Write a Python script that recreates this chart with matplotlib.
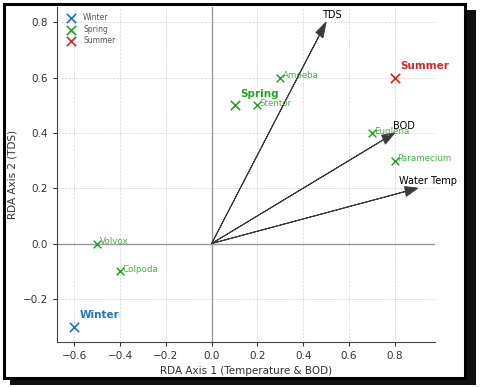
import matplotlib
matplotlib.use('Agg')
import matplotlib.pyplot as plt
from matplotlib.patches import Rectangle

# site scores
sites = ['Winter', 'Spring', 'Summer']
site_x = [-0.6, 0.1, 0.8]
site_y = [-0.3, 0.5, 0.6]
site_colors = ['#1f77b4', '#2ca02c', '#d62728']

# species scores
species = ['Amoeba', 'Stentor', 'Euglena', 'Paramecium', 'Volvox', 'Colpoda']
species_x = [0.3, 0.2, 0.7, 0.8, -0.5, -0.4]
species_y = [0.6, 0.5, 0.4, 0.3, 0.0, -0.1]

# environmental vectors
env_vars = ['TDS', 'BOD', 'Water Temp']
env_x = [0.5, 0.8, 0.9]
env_y = [0.8, 0.4, 0.2]

fig = plt.figure(figsize=(4.8, 3.87), dpi=100)

# framed screenshot look: shadow + white panel with black edge
fig.patches.append(Rectangle((0.02, 0.004), 0.972, 0.97, transform=fig.transFigure,
                             facecolor='#111111', edgecolor='none', zorder=-2))
fig.patches.append(Rectangle((0.008, 0.024), 0.961, 0.965, transform=fig.transFigure,
                             facecolor='white', edgecolor='black', linewidth=2.2, zorder=-1))

ax = fig.add_axes([0.119, 0.117, 0.787, 0.865])
ax.set_facecolor('none')

ax.axhline(0, color='#999999', linewidth=1.0, zorder=1.8)
ax.axvline(0, color='#999999', linewidth=1.0, zorder=1.8)

for name, x, y, c in zip(sites, site_x, site_y, site_colors):
    ax.scatter(x, y, marker='x', s=45, color=c, linewidths=1.2, label=name, zorder=3)
    ax.text(x + 0.025, y + 0.04, name, color=c, fontsize=7.5, fontweight='bold',
            ha='left', va='center')

for name, x, y in zip(species, species_x, species_y):
    ax.scatter(x, y, marker='x', s=30, color='#2ca02c', linewidths=1.1, zorder=3)
    ax.text(x + 0.01, y + 0.006, name, color='#2ca02c', alpha=0.85, fontsize=6.3,
            ha='left', va='center')

for name, x, y in zip(env_vars, env_x, env_y):
    ax.arrow(0, 0, x, y, color='#3a3a3a', linewidth=0.7, head_width=0.036,
             head_length=0.055, length_includes_head=True, zorder=2)
    ax.text(x * 1.05, y + 0.025, name, color='black', fontsize=7, ha='center', va='center')

ax.set_xlim(-0.675, 0.975)
ax.set_ylim(-0.355, 0.855)
ax.set_xticks([-0.6, -0.4, -0.2, 0.0, 0.2, 0.4, 0.6, 0.8])
ax.set_yticks([-0.2, 0.0, 0.2, 0.4, 0.6, 0.8])
ax.tick_params(labelsize=7.5, length=3, width=0.8, colors='#333333')
ax.set_xlabel('RDA Axis 1 (Temperature & BOD)', fontsize=7.5, color='#333333')
ax.set_ylabel('RDA Axis 2 (TDS)', fontsize=7.5, color='#333333')
ax.grid(True, linestyle='--', linewidth=0.5, color='#d5d5d5')
for side in ['top', 'right']:
    ax.spines[side].set_visible(False)
for side in ['left', 'bottom']:
    ax.spines[side].set_color('#444444')

ax.legend(loc='upper left', frameon=False, fontsize=5.5, handletextpad=0.6,
          labelspacing=0.35, borderaxespad=0.4, labelcolor='#555555')

fig.savefig('out.png', dpi=100)
